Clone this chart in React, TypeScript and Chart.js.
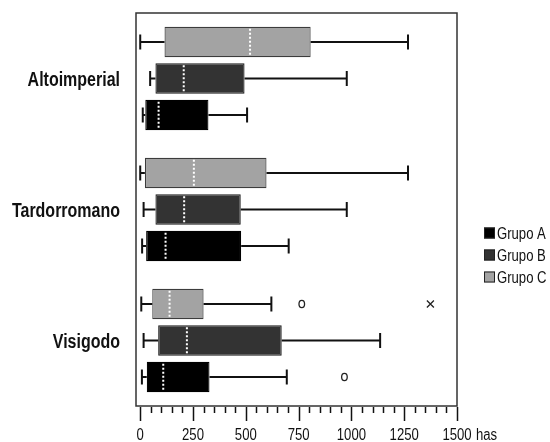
import { useEffect, useRef } from 'react';
import { Chart, registerables } from 'chart.js';

Chart.register(...registerables);

const categories = ['Altoimperial', 'Tardorromano', 'Visigodo'];
const groupLabels = ['Grupo A', 'Grupo B', 'Grupo C'];

// Grupo A
const aMin = [12, 9, 8];
const aQ1 = [24, 28, 31];
const aMed = [87, 120, 109];
const aQ3 = [323, 478, 328];
const aMax = [506, 703, 694];
const aOut = [[], [], [967]];
const aExt = [[], [], []];

// Grupo B
const bMin = [47, 16, 16];
const bQ1 = [72, 72, 85];
const bMed = [206, 208, 221];
const bQ3 = [494, 476, 670];
const bMax = [978, 978, 1136];
const bOut = [[], [], []];
const bExt = [[], [], []];

// Grupo C
const cMin = [0, 0, 5];
const cQ1 = [115, 22, 57];
const cMed = [520, 254, 139];
const cQ3 = [807, 598, 300];
const cMax = [1268, 1268, 621];
const cOut = [[], [], [765]];
const cExt = [[], [], [1374]];

const axisMin = -20;
const axisMax = 1500;
const minorStep = 50;
const majorStep = 250;
const unitLabel = 'has';

const FONT = '"Liberation Sans", Arial, Helvetica, sans-serif';
const NARROW = 0.82; // horizontal condensing, imitating Arial Narrow

type Stat = {
  label: string;
  fill: string;
  border: string;
  min: number[];
  q1: number[];
  med: number[];
  q3: number[];
  max: number[];
  out: number[][];
  ext: number[][];
};

function narrowText(ctx: CanvasRenderingContext2D, text: string, x: number, y: number, align: CanvasTextAlign, font: string) {
  ctx.save();
  ctx.font = font;
  ctx.fillStyle = '#111111';
  ctx.textAlign = align;
  ctx.textBaseline = 'alphabetic';
  ctx.translate(x, y);
  ctx.scale(NARROW, 1);
  ctx.fillText(text, 0, 0);
  ctx.restore();
}

export default function App() {
  const ref = useRef<HTMLCanvasElement>(null);

  useEffect(() => {
    if (!ref.current) return;
    // drawing order top to bottom within a category: C, B, A
    const stats: Stat[] = [
      { label: groupLabels[2], fill: '#a3a3a3', border: '#3c3c3c', min: cMin, q1: cQ1, med: cMed, q3: cQ3, max: cMax, out: cOut, ext: cExt },
      { label: groupLabels[1], fill: '#333333', border: '#1a1a1a', min: bMin, q1: bQ1, med: bMed, q3: bQ3, max: bMax, out: bOut, ext: bExt },
      { label: groupLabels[0], fill: '#000000', border: '#000000', min: aMin, q1: aQ1, med: aMed, q3: aQ3, max: aMax, out: aOut, ext: aExt },
    ];

    const tickValues: number[] = [];
    for (let v = 0; v <= axisMax; v += minorStep) tickValues.push(v);

    const boxPlugin = {
      id: 'boxExtras',
      afterDatasetsDraw(chart: any) {
        const { ctx, chartArea } = chart;
        const xs = chart.scales.x;
        const px = (v: number) => xs.getPixelForValue(v);
        stats.forEach((s, d) => {
          const meta = chart.getDatasetMeta(d);
          meta.data.forEach((bar: any, i: number) => {
            const y = bar.y;
            const h = bar.height;
            ctx.save();
            ctx.strokeStyle = '#111111';
            ctx.lineWidth = 2;
            ctx.beginPath();
            ctx.moveTo(px(s.min[i]), y);
            ctx.lineTo(px(s.q1[i]), y);
            ctx.moveTo(px(s.q3[i]), y);
            ctx.lineTo(px(s.max[i]), y);
            ctx.moveTo(px(s.min[i]), y - 7.5);
            ctx.lineTo(px(s.min[i]), y + 7.5);
            ctx.moveTo(px(s.max[i]), y - 7.5);
            ctx.lineTo(px(s.max[i]), y + 7.5);
            ctx.stroke();
            // median
            ctx.strokeStyle = '#ffffff';
            ctx.lineWidth = 2;
            ctx.setLineDash([2, 2]);
            ctx.beginPath();
            ctx.moveTo(px(s.med[i]), y - h / 2 + 2);
            ctx.lineTo(px(s.med[i]), y + h / 2 - 1);
            ctx.stroke();
            ctx.setLineDash([]);
            // outliers
            ctx.strokeStyle = '#222222';
            ctx.lineWidth = 1.3;
            s.out[i].forEach((v) => {
              ctx.beginPath();
              ctx.ellipse(px(v), y, 2.8, 3.6, 0, 0, Math.PI * 2);
              ctx.stroke();
            });
            s.ext[i].forEach((v) => {
              const cx = px(v);
              ctx.beginPath();
              ctx.moveTo(cx - 3.5, y - 3.5);
              ctx.lineTo(cx + 3.5, y + 3.5);
              ctx.moveTo(cx + 3.5, y - 3.5);
              ctx.lineTo(cx - 3.5, y + 3.5);
              ctx.stroke();
            });
            ctx.restore();
          });
        });
        // frame
        ctx.save();
        ctx.strokeStyle = '#333333';
        ctx.lineWidth = 1.5;
        ctx.strokeRect(chartArea.left, chartArea.top, chartArea.right - chartArea.left, chartArea.bottom - chartArea.top);
        ctx.restore();
      },
      afterDraw(chart: any) {
        const { ctx, chartArea } = chart;
        const xs = chart.scales.x;
        const ys = chart.scales.y;
        ctx.save();
        // x tick marks
        ctx.strokeStyle = '#111111';
        ctx.lineWidth = 1.5;
        ctx.beginPath();
        xs.ticks.forEach((t: any) => {
          const x = Math.round(xs.getPixelForValue(t.value)) + 0.5;
          const major = t.value % majorStep === 0;
          ctx.moveTo(x, chartArea.bottom + 1);
          ctx.lineTo(x, chartArea.bottom + (major ? 15 : 7));
        });
        ctx.stroke();
        ctx.restore();
        // x tick labels
        xs.ticks.forEach((t: any) => {
          if (t.value % majorStep !== 0) return;
          narrowText(ctx, String(t.value), xs.getPixelForValue(t.value), chartArea.bottom + 33.5, 'center', '16px ' + FONT);
        });
        // unit label
        narrowText(ctx, unitLabel, 476, chartArea.bottom + 33.5, 'left', '16px ' + FONT);
        // y category labels
        categories.forEach((c, i) => {
          narrowText(ctx, c, chartArea.left - 16, ys.getPixelForTick(i) + 7.5, 'right', 'bold 19.5px ' + FONT);
        });
        // legend (Grupo A, B, C)
        const legendItems = [stats[2], stats[1], stats[0]];
        legendItems.forEach((s, k) => {
          const cy = 233 + k * 22;
          ctx.save();
          ctx.fillStyle = s.fill;
          ctx.fillRect(484, cy - 5.5, 11, 11);
          ctx.strokeStyle = '#222222';
          ctx.lineWidth = 1;
          ctx.strokeRect(484.5, cy - 5, 10, 10);
          ctx.restore();
          narrowText(ctx, s.label, 497, cy + 6.3, 'left', '16px ' + FONT);
        });
      },
    };

    const chart = new Chart(ref.current, {
      type: 'bar',
      data: {
        labels: categories,
        datasets: stats.map((s) => ({
          label: s.label,
          data: categories.map((_, i) => [s.q1[i], s.q3[i]]),
          backgroundColor: s.fill,
          borderColor: s.border,
          borderWidth: 1.2,
          borderSkipped: false,
          categoryPercentage: 0.836,
          barPercentage: 0.836,
        })) as any,
      },
      options: {
        indexAxis: 'y',
        responsive: false,
        animation: false,
        layout: { padding: { top: 13, right: 93, bottom: 0, left: 0 } },
        plugins: { legend: { display: false }, tooltip: { enabled: false } },
        scales: {
          x: {
            type: 'linear',
            min: axisMin,
            max: axisMax,
            grid: { display: false, drawTicks: false },
            border: { display: false },
            afterBuildTicks: (s: any) => {
              s.ticks = tickValues.map((v) => ({ value: v }));
            },
            afterFit: (s: any) => {
              s.height = 36;
              s.paddingLeft = 0;
              s.paddingRight = 0;
            },
            ticks: { display: false, autoSkip: false },
          },
          y: {
            type: 'category',
            grid: { display: false, drawTicks: false },
            border: { display: false },
            afterFit: (s: any) => {
              s.width = 136;
              s.paddingTop = 0;
              s.paddingBottom = 0;
            },
            ticks: { display: false },
          },
        },
      },
      plugins: [boxPlugin],
    } as any);

    return () => chart.destroy();
  }, []);

  return (
    <div style={{ position: 'absolute', left: 0, top: 0, width: 550, height: 442, background: '#fff' }}>
      <canvas ref={ref} width={550} height={442} style={{ display: 'block' }} />
    </div>
  );
}
